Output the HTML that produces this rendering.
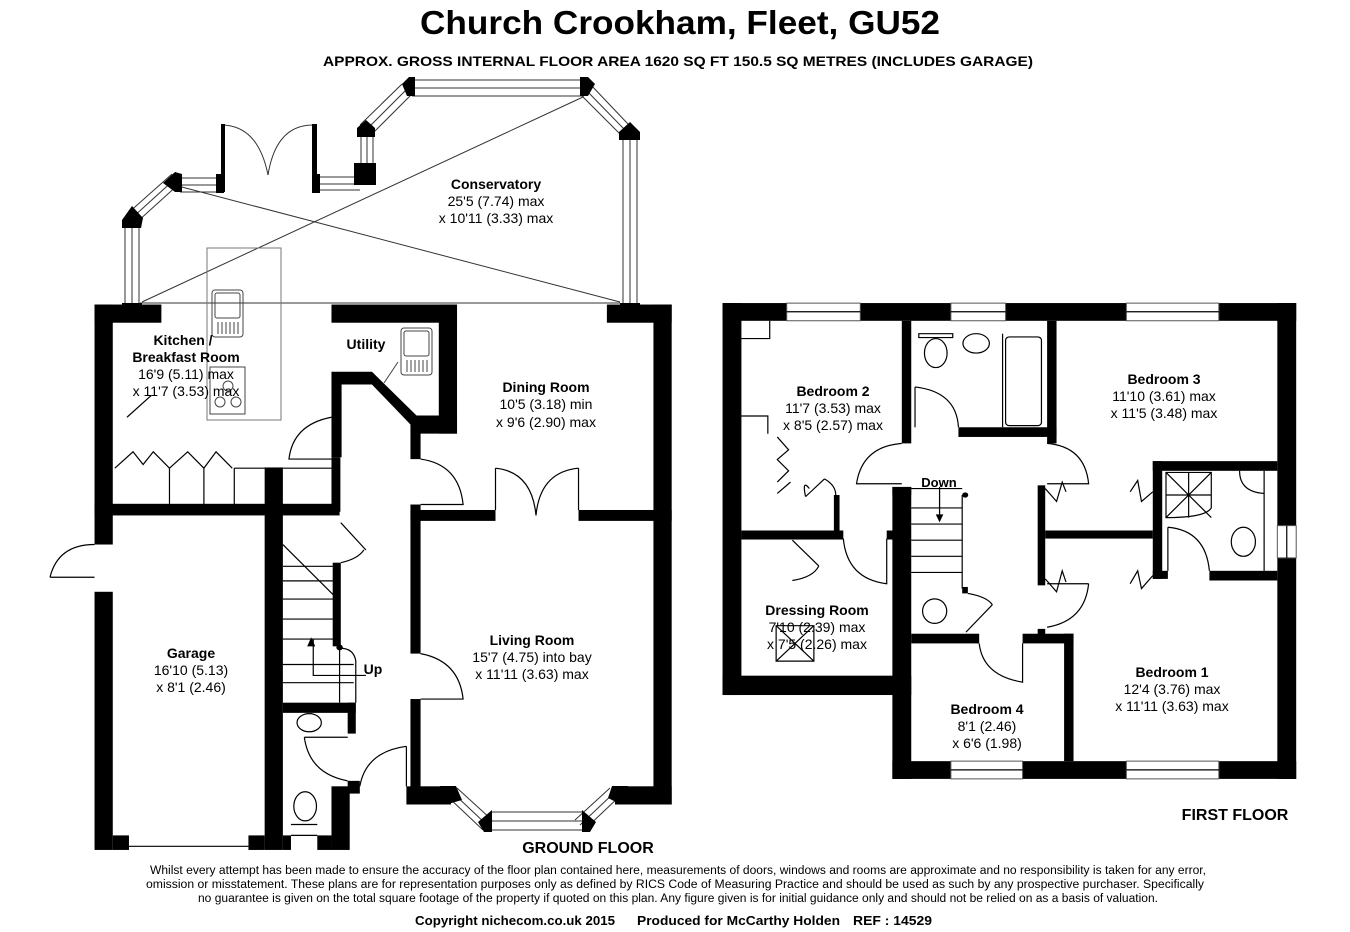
<!DOCTYPE html>
<html><head><meta charset="utf-8"><style>
html,body{margin:0;padding:0;background:#fff;}
svg{display:block;font-family:"Liberation Sans",Arial,sans-serif;}
.t{vector-effect:non-scaling-stroke;}
</style></head><body>
<svg width="1350" height="932" viewBox="0 0 1350 932" xmlns="http://www.w3.org/2000/svg">
<rect width="1350" height="932" fill="#fff"/>
<text x="420" y="34" font-size="33" font-weight="bold" textLength="520" lengthAdjust="spacingAndGlyphs">Church Crookham, Fleet, GU52</text>
<text x="323" y="66" font-size="14" font-weight="bold" textLength="710" lengthAdjust="spacingAndGlyphs">APPROX. GROSS INTERNAL FLOOR AREA 1620 SQ FT 150.5 SQ METRES (INCLUDES GARAGE)</text>

<!-- Conservatory -->
<g stroke="#333" stroke-width="1" fill="none">
<line x1="140" y1="303" x2="620" y2="303"/>
<line x1="142" y1="302" x2="583" y2="97"/>
<line x1="178" y1="186" x2="620" y2="302"/>
<rect x="207" y="248" width="74" height="172" stroke="#777"/>
<path d="M125 225 V303 M139 225 V303 M132 225 V303" />
<path d="M127 214 L172 174 M137 222 L180 183 M132 218 L176 178"/>
<path d="M180 178 H221 M180 192 H221 M180 185 H221"/>
<path d="M320 177 H360 M320 190 H360 M320 184 H360"/>
<path d="M361 130 V165 M373 130 V165 M367 130 V165"/>
<path d="M360 125 L402 84 M371 135 L412 94 M366 130 L407 89"/>
<path d="M412 80 H584 M412 96 H584 M412 88 H584"/>
<path d="M590 84 L628 124 M580 94 L620 134 M585 89 L624 129"/>
<path d="M623 140 V303 M637 140 V303 M630 140 V303"/>
<path d="M221 125 Q258 125 268 175 M313 125 Q276 125 268 175"/>
</g>
<g fill="#000">
<rect x="122" y="303" width="20" height="15"/>
<polygon points="122,220 132,206 143,218 141,228 122,228"/>
<polygon points="163,183 175,172 182,174 182,192 175,192"/>
<rect x="216" y="174" width="8" height="19"/>
<rect x="312" y="124" width="5" height="68"/>
<rect x="221" y="124" width="4" height="68"/>
<rect x="312" y="174" width="8" height="19"/>
<rect x="354" y="163" width="22" height="22"/>
<polygon points="357,128 366,120 375,128 375,137 357,137"/>
<polygon points="402,84 409,77 415,77 415,96 407,96"/>
<polygon points="580,77 588,77 595,84 588,96 580,96"/>
<polygon points="619,132 630,122 640,132 640,140 619,140"/>
<rect x="620" y="303" width="20" height="15"/>
</g>
<text x="496" y="189" font-size="14" font-weight="bold" text-anchor="middle">Conservatory</text>
<text x="496" y="206" font-size="14" text-anchor="middle">25'5 (7.74) max</text>
<text x="496" y="223" font-size="14" text-anchor="middle">x 10'11 (3.33) max</text>

<!-- Ground floor -->
<g transform="translate(50,290) scale(0.405,0.3636)">
<g fill="#000">
<rect x="110" y="40" width="45" height="660"/>
<rect x="110" y="40" width="165" height="50"/>
<rect x="110" y="830" width="45" height="710"/>
<rect x="110" y="588" width="605" height="32"/>
<rect x="530" y="488" width="45" height="1052"/>
<rect x="695" y="40" width="310" height="50"/>
<rect x="960" y="40" width="45" height="355"/>
<polygon points="695,225 795,225 905,345 1005,345 1005,395 915,395 915,465 890,465 890,370 795,260 720,260 720,460 695,460"/>
<rect x="695" y="460" width="22" height="150"/>
<rect x="698" y="750" width="20" height="230"/>
<rect x="890" y="590" width="25" height="410"/>
<rect x="890" y="1125" width="25" height="265"/>
<rect x="890" y="605" width="210" height="30"/>
<rect x="1305" y="605" width="230" height="30"/>
<rect x="1375" y="40" width="160" height="50"/>
<rect x="1490" y="40" width="45" height="1375"/>
<rect x="880" y="1365" width="110" height="50"/>
<rect x="1395" y="1365" width="140" height="50"/>
<rect x="575" y="1135" width="180" height="28"/>
<rect x="735" y="1135" width="20" height="85"/>
<rect x="695" y="1365" width="45" height="175"/>
<rect x="735" y="1350" width="30" height="35"/>
<rect x="155" y="1500" width="40" height="40"/>
<rect x="490" y="1500" width="40" height="40"/>
<rect x="575" y="1500" width="20" height="40"/>
<rect x="660" y="1500" width="35" height="40"/>
</g>
<g stroke="#000" stroke-width="1.2" fill="none">
<path class="t" d="M195 1530 H490"/>
<path class="t" d="M110 700 Q20 700 0 790 M0 790 H110"/>
<path class="t" d="M695 350 Q600 370 590 465 H695"/>
<path class="t" d="M915 465 Q1010 480 1020 590 H915"/>
<path class="t" d="M1100 490 V605 M1100 490 Q1190 500 1200 620 M1305 490 V605 M1305 490 Q1210 500 1200 620"/>
<path class="t" d="M915 1000 Q1010 1020 1020 1125 H915"/>
<path class="t" d="M880 1255 V1365 M880 1255 Q780 1270 765 1365"/>
<path class="t" d="M628 1230 Q640 1330 735 1350 M628 1230 H735"/>
<path class="t" d="M718 640 L780 715 M718 750 Q760 740 775 715"/>
<path class="t" d="M160 490 L205 445 L230 480 L255 445 L295 490 L340 445 L380 490 L410 445 L450 490 M295 490 V590 M380 490 V590 M455 490 V590 M455 490 H695"/>
<path class="t" d="M575 700 L710 850 M575 760 H700 M575 800 H712 M575 850 H712 M575 905 H712 M575 960 H712 M575 1030 H750 M575 1080 H750"/>
<path class="t" d="M715 980 V1135 M715 985 Q750 985 755 1020 V1135"/>
<path class="t" d="M650 960 V1060 H780"/>
<path class="t" d="M595 1470 H660 M595 1500 H660"/>
<ellipse class="t" cx="640" cy="1190" rx="30" ry="25"/>
<ellipse class="t" cx="630" cy="1420" rx="28" ry="40"/>
<path class="t" d="M190 350 L250 290"/>
</g>
<path d="M645 955 L635 980 H655 Z" fill="#000"/>
<circle cx="715" cy="983" r="8" fill="#000"/>
</g>
<!-- bay -->
<g stroke="#333" stroke-width="1" fill="none">
<path d="M447 796 L483 830 M457 788 L492 820 M452 792 L487 825"/>
<path d="M490 812 H583 M490 830 H583 M490 821 H583"/>
<path d="M584 830 L620 796 M575 820 L610 788 M580 825 L615 792"/>
</g>
<g fill="#000">
<polygon points="440,786 456,786 462,800 448,804 440,800"/>
<polygon points="478,822 492,810 492,832 484,832"/>
<polygon points="582,810 596,822 590,832 582,832"/>
<polygon points="612,786 628,786 628,800 620,804 608,798"/>
</g>
<!-- kitchen fixtures -->
<g stroke="#444" stroke-width="1" fill="none">
<rect x="212" y="290" width="31" height="47" rx="3"/>
<rect x="215" y="293" width="25" height="25" rx="2"/>
<path d="M218 322 v12 M222 322 v12 M226 322 v12 M230 322 v12 M234 322 v12 M238 322 v12"/>
<rect x="210" y="367" width="35" height="47"/>
<circle cx="220" cy="402" r="5"/><circle cx="236" cy="402" r="5"/><circle cx="228" cy="386" r="5"/>
<rect x="401" y="328" width="31" height="47" rx="3"/>
<rect x="404" y="331" width="25" height="25" rx="2"/>
<path d="M407 360 v12 M411 360 v12 M415 360 v12 M419 360 v12 M423 360 v12 M427 360 v12"/>
<line x1="384" y1="383" x2="398" y2="362"/>
</g>
<g font-size="14" text-anchor="middle">
<text x="183" y="345" font-weight="bold">Kitchen /</text>
<text x="186" y="362" font-weight="bold">Breakfast Room</text>
<text x="186" y="379">16'9 (5.11) max</text>
<text x="186" y="396">x 11'7 (3.53) max</text>
<text x="366" y="349" font-weight="bold">Utility</text>
<text x="546" y="392" font-weight="bold">Dining Room</text>
<text x="546" y="409">10'5 (3.18) min</text>
<text x="546" y="427">x 9'6 (2.90) max</text>
<text x="532" y="645" font-weight="bold">Living Room</text>
<text x="532" y="662">15'7 (4.75) into bay</text>
<text x="532" y="679">x 11'11 (3.63) max</text>
<text x="191" y="658" font-weight="bold">Garage</text>
<text x="191" y="675">16'10 (5.13)</text>
<text x="191" y="692">x 8'1 (2.46)</text>
<text x="373" y="674" font-weight="bold">Up</text>
<text x="588" y="853" font-size="16" font-weight="bold">GROUND FLOOR</text>
</g>

<!-- First floor -->
<g transform="translate(715,295) scale(0.3774,0.3226)">
<g fill="#000">
<rect x="20" y="25" width="1520" height="55"/>
<rect x="20" y="25" width="50" height="1215"/>
<rect x="20" y="1180" width="500" height="60"/>
<rect x="470" y="595" width="50" height="905"/>
<rect x="470" y="1445" width="1070" height="55"/>
<rect x="1490" y="25" width="50" height="1475"/>
<rect x="70" y="730" width="270" height="28"/>
<rect x="455" y="730" width="20" height="28"/>
<rect x="315" y="620" width="15" height="115"/>
<rect x="495" y="80" width="25" height="380"/>
<rect x="645" y="410" width="260" height="30"/>
<rect x="880" y="80" width="25" height="380"/>
<rect x="855" y="590" width="20" height="310"/>
<rect x="875" y="730" width="285" height="25"/>
<rect x="1160" y="515" width="25" height="365"/>
<rect x="1160" y="515" width="330" height="30"/>
<rect x="1310" y="855" width="180" height="30"/>
<rect x="1160" y="855" width="40" height="25"/>
<rect x="520" y="1050" width="180" height="30"/>
<rect x="815" y="1050" width="135" height="30"/>
<rect x="925" y="1050" width="25" height="395"/>
<rect x="855" y="1035" width="20" height="25"/>
<rect x="470" y="595" width="50" height="25"/>
<rect x="655" y="905" width="15" height="20"/>
</g>
<g fill="#fff" stroke="#555" stroke-width="1">
<rect class="t" x="190" y="25" width="195" height="55"/>
<rect class="t" x="625" y="25" width="145" height="55"/>
<rect class="t" x="1090" y="25" width="245" height="55"/>
<rect class="t" x="625" y="1445" width="190" height="55"/>
<rect class="t" x="1090" y="1445" width="245" height="55"/>
<rect class="t" x="1490" y="715" width="50" height="100"/>
</g>
<g stroke="#000" stroke-width="1.2" fill="none">
<path class="t" d="M190 52 H385 M625 52 H770 M1090 52 H1335 M625 1472 H815 M1090 1472 H1335 M1515 715 V815"/>
<path class="t" d="M70 135 H145 V80 M70 375 H140 V430"/>
<path class="t" d="M165 440 L195 480 L165 510 L195 545 L165 580 M165 615 L200 580 M240 625 L290 570 M240 625 Q230 570 250 600 M290 570 Q320 590 320 620"/>
<path class="t" d="M520 600 H655 M520 660 H655 M520 710 H655 M520 760 H655 M520 810 H655 M520 860 H655 M655 620 V910 M595 595 V680"/>
<path class="t" d="M530 285 Q640 300 645 410 M530 285 V410"/>
<path class="t" d="M495 460 Q390 470 375 585 H495"/>
<path class="t" d="M880 460 Q980 470 990 585 H880"/>
<path class="t" d="M990 895 Q980 1010 880 1030 M880 895 H990"/>
<path class="t" d="M340 755 Q350 880 455 895 V755"/>
<path class="t" d="M205 760 L275 840 M205 885 Q260 875 275 840"/>
<path class="t" d="M665 1045 L735 960 M670 925 Q720 935 735 960"/>
<path class="t" d="M700 1080 Q710 1180 815 1200 V1080"/>
<path class="t" d="M1200 720 Q1300 730 1310 855 M1200 720 V855"/>
<path class="t" d="M875 600 L905 640 L920 580 L930 610 M875 880 L905 920 L920 855 L930 890 M1160 610 L1130 640 L1120 575 L1100 610 M1160 870 L1130 910 L1120 855 L1100 895"/>
<rect class="t" x="540" y="120" width="90" height="12"/>
<ellipse class="t" cx="585" cy="180" rx="30" ry="45"/>
<ellipse class="t" cx="692" cy="150" rx="35" ry="30"/>
<rect class="t" x="770" y="130" width="95" height="275" rx="10"/>
<path class="t" d="M762 120 V410"/>
<ellipse class="t" cx="582" cy="980" rx="32" ry="38"/>
<path class="t" d="M1195 550 H1315 V660 Q1300 690 1195 690 Z M1195 550 L1315 690 M1315 550 L1195 690 M1255 550 V690 M1195 620 H1315"/>
<path class="t" d="M1390 545 Q1390 610 1455 615 M1455 545 V855"/>
<ellipse class="t" cx="1400" cy="765" rx="32" ry="45"/>
<rect class="t" x="162" y="1025" width="100" height="110"/>
<path class="t" d="M162 1025 L262 1135 M262 1025 L162 1135"/>
</g>
<path d="M585 680 L605 680 L595 705 Z" fill="#000"/>
<line class="t" x1="595" y1="595" x2="595" y2="685" stroke="#000"/>
<circle cx="663" cy="620" r="8" fill="#000"/>
</g>
<g font-size="14" text-anchor="middle">
<text x="833" y="396" font-weight="bold">Bedroom 2</text>
<text x="833" y="413">11'7 (3.53) max</text>
<text x="833" y="430">x 8'5 (2.57) max</text>
<text x="1164" y="384" font-weight="bold">Bedroom 3</text>
<text x="1164" y="401">11'10 (3.61) max</text>
<text x="1164" y="418">x 11'5 (3.48) max</text>
<text x="939" y="487" font-size="13" font-weight="bold">Down</text>
<text x="817" y="615" font-weight="bold">Dressing Room</text>
<text x="817" y="632">7'10 (2.39) max</text>
<text x="817" y="649">x 7'5 (2.26) max</text>
<text x="1172" y="677" font-weight="bold">Bedroom 1</text>
<text x="1172" y="694">12'4 (3.76) max</text>
<text x="1172" y="711">x 11'11 (3.63) max</text>
<text x="987" y="714" font-weight="bold">Bedroom 4</text>
<text x="987" y="731">8'1 (2.46)</text>
<text x="987" y="748">x 6'6 (1.98)</text>
<text x="1235" y="820" font-size="16" font-weight="bold">FIRST FLOOR</text>
</g>

<!-- footer -->
<g font-size="11.5">
<text x="150" y="874" textLength="1056" lengthAdjust="spacingAndGlyphs">Whilst every attempt has been made to ensure the accuracy of the floor plan contained here, measurements of doors, windows and rooms are approximate and no responsibility is taken for any error,</text>
<text x="146" y="888" textLength="1058" lengthAdjust="spacingAndGlyphs">omission or misstatement. These plans are for representation purposes only as defined by RICS Code of Measuring Practice and should be used as such by any prospective purchaser.  Specifically</text>
<text x="198" y="902" textLength="960" lengthAdjust="spacingAndGlyphs">no guarantee is given on the total square footage of the property if quoted on this plan. Any figure given is for initial guidance only and should not be relied on as a basis of valuation.</text>
<g font-size="13" font-weight="bold">
<text x="415" y="925" textLength="200" lengthAdjust="spacingAndGlyphs">Copyright nichecom.co.uk 2015</text>
<text x="637" y="925" textLength="203" lengthAdjust="spacingAndGlyphs">Produced for McCarthy Holden</text>
<text x="853" y="925" textLength="79" lengthAdjust="spacingAndGlyphs">REF : 14529</text>
</g>
</g>
</svg>
</body></html>
